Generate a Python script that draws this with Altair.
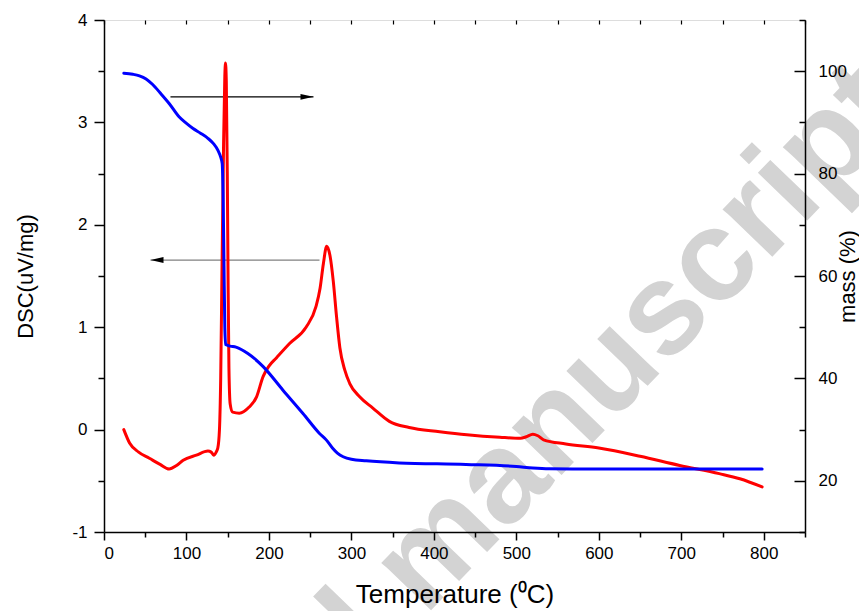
import altair as alt
import pandas as pd

# ---- data ----
red_T = [24, 31, 42, 55, 68, 79, 88, 96, 112, 126,
         130, 133, 136, 138, 140, 141.5, 143, 145, 146.5, 147.3,
         148.3, 149.5, 150.5, 151.5, 153, 156, 164, 176, 185, 193,
         200, 209, 225, 245, 257, 262, 266, 270, 274, 278,
         282, 286, 292, 298, 310, 326, 346, 370, 407, 440,
         480, 505, 512, 520, 526, 533, 560, 600, 650, 698,
         746, 771, 798]
red_dsc = [0.0, -0.13, -0.22, -0.28, -0.34, -0.385, -0.35, -0.30, -0.25, -0.21,
           -0.22, -0.25, -0.22, -0.18, 0.0, 0.5, 1.5, 2.8, 3.45, 3.58,
           3.4, 2.5, 1.4, 0.6, 0.25, 0.17, 0.16, 0.22, 0.32, 0.52,
           0.62, 0.70, 0.84, 1.0, 1.2, 1.38, 1.62, 1.79, 1.70, 1.45,
           1.1, 0.8, 0.58, 0.45, 0.32, 0.21, 0.08, 0.02, -0.02, -0.05,
           -0.075, -0.085, -0.07, -0.045, -0.06, -0.10, -0.14, -0.18, -0.26, -0.35,
           -0.43, -0.48, -0.56]

blue_T = [24, 35, 43, 51, 59, 69, 79, 91, 100, 108,
          117, 126, 133, 138, 141.5, 143.3, 144.5, 145.5, 146.5, 147.5,
          153, 160, 167, 174, 183, 193, 217, 241, 261, 270,
          277, 283, 290, 300, 318, 358, 439, 500, 520, 540,
          600, 700, 798]
blue_mass = [99.6, 99.4, 99.1, 98.5, 97.4, 95.6, 93.7, 91.1, 89.8, 88.8,
             87.9, 86.9, 85.8, 84.6, 83.2, 82.0, 75, 62, 50, 46.6,
             46.3, 46.1, 45.6, 44.9, 43.8, 42.3, 37.7, 33.2, 29.3, 27.9,
             26.4, 25.4, 24.7, 24.2, 23.9, 23.5, 23.2, 22.8, 22.5, 22.35,
             22.3, 22.3, 22.3]

# arrows (left-axis coordinates)
arrow_start = [80.6, 261.3]
arrow_end = [254.0, 56.4]
arrow_y = [3.25, 1.656]
arrow_line_color = ["#000000", "#808080"]
arrow_head_shape = ["M 0 0 L -2 -0.45 L -2 0.45 Z", "M 0 0 L 2 -0.45 L 2 0.45 Z"]

# watermark
wm_text = ["Accepted manuscript"]
wm_x = [945]
wm_y = [3.36]

x_ticks = list(range(0, 851, 50))
dsc_ticks = [-1, -0.5, 0, 0.5, 1, 1.5, 2, 2.5, 3, 3.5, 4]
mass_major = [20, 40, 60, 80, 100]
mass_minor = [10, 30, 50, 70, 90, 110]

FONT = "Liberation Sans"

red_df = pd.DataFrame({"T": red_T, "DSC": red_dsc})
blue_df = pd.DataFrame({"T": blue_T, "mass": blue_mass})
arrow_df = pd.DataFrame({"x0": arrow_start, "x1": arrow_end, "y": arrow_y,
                         "c": arrow_line_color, "shape": arrow_head_shape})
wm_df = pd.DataFrame({"label": wm_text, "x": wm_x, "y": wm_y})

xscale = alt.Scale(domain=[0, 850], nice=False, zero=False)
yL = alt.Scale(domain=[-1, 4], nice=False, zero=False)
yR = alt.Scale(domain=[10, 110], nice=False, zero=False)

watermark = alt.Chart(wm_df).mark_text(
    font=FONT, fontWeight="bold", fontSize=130, color="#d3d3d3",
    angle=314, align="right", baseline="middle"
).encode(
    x=alt.X("x:Q", scale=xscale, axis=None),
    y=alt.Y("y:Q", scale=yL, axis=None),
    text="label:N",
)

arrow_lines = alt.Chart(arrow_df).mark_rule(strokeWidth=1.2).encode(
    x=alt.X("x0:Q", scale=xscale, axis=None),
    x2="x1:Q",
    y=alt.Y("y:Q", scale=yL, axis=None),
    color=alt.Color("c:N", scale=None),
)
arrow_heads = alt.Chart(arrow_df).mark_point(
    filled=True, opacity=1, color="#000000", size=169, strokeWidth=0
).encode(
    x=alt.X("x1:Q", scale=xscale, axis=None),
    y=alt.Y("y:Q", scale=yL, axis=None),
    shape=alt.Shape("shape:N", scale=None),
)

red = alt.Chart(red_df).mark_line(
    color="#ff0000", strokeWidth=3, interpolate="monotone", strokeCap="round"
).encode(
    x=alt.X("T:Q", scale=xscale, axis=alt.Axis(
        orient="bottom", values=x_ticks, grid=False, zindex=1,
        tickSize={"condition": {"test": "datum.value % 100 === 0", "value": 8}, "value": 5},
        labelExpr="datum.value % 100 === 0 && datum.value <= 800 ? toString(datum.value) : ''",
        labelFontSize=17, labelPadding=5, labelFont=FONT, labelColor="black",
        title="Temperature (\u2070C)", titleFontSize=26, titleFont=FONT,
        titleFontWeight="normal", titleColor="black", titlePadding=20,
        domainColor="black", domainWidth=1.5, tickColor="black", tickWidth=1.5,
    )),
    y=alt.Y("DSC:Q", scale=yL, axis=alt.Axis(
        orient="left", values=dsc_ticks, grid=False, zindex=1,
        tickSize={"condition": {"test": "datum.value % 1 === 0", "value": 10}, "value": 6},
        labelExpr="datum.value % 1 === 0 ? toString(datum.value) : ''",
        labelFontSize=17, labelPadding=7, labelFont=FONT, labelColor="black",
        title="DSC(uV/mg)", titleFontSize=22, titleFont=FONT,
        titleFontWeight="normal", titleColor="black", titlePadding=34,
        domainColor="black", domainWidth=1.5, tickColor="black", tickWidth=1.5,
    )),
)

top_ticks = alt.Chart(red_df).mark_line(opacity=0).encode(
    x=alt.X("T:Q", scale=xscale, axis=alt.Axis(
        orient="top", values=x_ticks, labels=False, domain=False, grid=False,
        tickSize=4, offset=-4, title="", zindex=1,
        tickColor="black", tickWidth=1.2,
    )),
    y=alt.Y("DSC:Q", scale=yL, axis=None),
)

blue = alt.Chart(blue_df).mark_line(
    color="#0000ff", strokeWidth=3, interpolate="monotone", strokeCap="round"
).encode(
    x=alt.X("T:Q", scale=xscale, axis=None),
    y=alt.Y("mass:Q", scale=yR, axis=alt.Axis(
        orient="right", values=mass_major, grid=False, zindex=1,
        ticks=False, tickSize=0, labelPadding=13,
        labelFontSize=17, labelFont=FONT, labelColor="black",
        title="mass (%)", titleFontSize=22, titleFont=FONT,
        titleFontWeight="normal", titleColor="black",
        titleAngle=270, titleBaseline="top", titlePadding=-9,
        domainColor="black", domainWidth=1.5,
    )),
)

right_major = alt.Chart(blue_df).mark_line(opacity=0).encode(
    x=alt.X("T:Q", scale=xscale, axis=None),
    y=alt.Y("mass:Q", scale=yR, axis=alt.Axis(
        orient="right", values=mass_major, labels=False, domain=False, grid=False,
        tickSize=11, offset=-11, title="", zindex=1,
        tickColor="black", tickWidth=1.5,
    )),
)
right_minor = alt.Chart(blue_df).mark_line(opacity=0).encode(
    x=alt.X("T:Q", scale=xscale, axis=None),
    y=alt.Y("mass:Q", scale=yR, axis=alt.Axis(
        orient="right", values=mass_minor, labels=False, domain=False, grid=False,
        tickSize=6, offset=-6, title="", zindex=1,
        tickColor="black", tickWidth=1.5,
    )),
)

left_group = alt.layer(
    watermark, arrow_lines, arrow_heads, red, top_ticks
).resolve_axis(x="independent", y="independent")
right_group = alt.layer(blue, right_major, right_minor).resolve_axis(y="independent")

chart = alt.layer(left_group, right_group).resolve_scale(
    y="independent"
).resolve_axis(
    x="independent", y="independent"
).properties(
    width=701, height=512,
    padding={"left": 96, "top": 12, "right": 54, "bottom": 79},
    autosize=alt.AutoSizeParams(type="none"),
).configure_view(
    stroke="black", strokeWidth=1.5
).configure(background="white")

chart.save("out.html", embed_options={"renderer": "svg", "actions": False})
